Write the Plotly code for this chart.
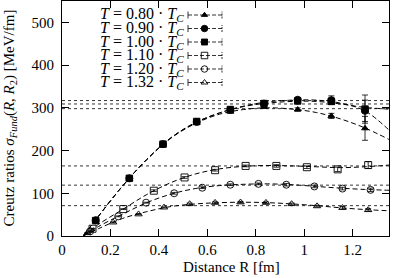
import plotly.graph_objects as go

# ---------------- data ----------------
temps = ["0.80", "0.90", "1.00", "1.10", "1.20", "1.32"]
symbols = ["triangle-up", "circle", "square", "square-open", "circle-open", "triangle-up-open"]

x_dark = [0.139, 0.278, 0.417, 0.556, 0.695, 0.834, 0.973, 1.112, 1.251]
x_110 = [0.126, 0.253, 0.379, 0.506, 0.632, 0.758, 0.885, 1.011, 1.138, 1.264]
x_120 = [0.116, 0.232, 0.347, 0.463, 0.579, 0.695, 0.811, 0.926, 1.042, 1.158, 1.274]
x_132 = [0.105, 0.211, 0.316, 0.421, 0.527, 0.632, 0.737, 0.842, 0.948, 1.053, 1.158, 1.264]

y_080 = [37, 134, 213, 265, 291, 302, 296, 281, 252]
e_080 = [1, 1, 2, 2, 2, 3, 4, 6, 28]
y_090 = [37, 135, 215, 267, 295, 310, 319, 318, 293]
e_090 = [1, 1, 2, 2, 3, 3, 4, 10, 25]
y_100 = [36, 135, 215, 268, 296, 310, 316, 315, 297]
e_100 = [1, 1, 2, 2, 3, 3, 4, 6, 33]
y_110 = [17, 63, 106, 137, 154, 164, 164, 161, 156, 166]
e_110 = [1, 1, 2, 2, 2, 2, 3, 3, 5, 8]
y_120 = [11, 46, 78, 100, 113, 120, 122, 120, 116, 111, 108]
e_120 = [1, 1, 1, 2, 2, 2, 2, 3, 3, 3, 4]
y_132 = [7, 32, 51, 67, 75, 78, 79, 78, 75, 70, 66, 61]
e_132 = [1, 1, 1, 1, 2, 2, 2, 2, 2, 2, 3, 3]

# fitted curves (dashed)
fit_x = [0.088, 0.15, 0.25, 0.35, 0.45, 0.55, 0.65, 0.75, 0.85, 0.95, 1.05, 1.15, 1.25, 1.35]
fit_080 = [0, 46, 117, 179, 229, 263, 285, 296, 300, 297, 289, 274, 253, 226]
fit_090 = [0, 46, 117, 179, 230, 265, 288, 304, 314, 318, 318, 311, 293, 248]
fit_100 = [0, 46, 117, 179, 230, 265, 288, 303, 311, 315, 315, 309, 301, 297]
fit_110 = [0, 27, 62, 97, 125, 145, 157, 163, 165, 164, 162, 160, 162, 166]
fit_120 = [0, 22, 51, 78, 98, 111, 118, 121, 122, 120, 116, 112, 109, 107]
fit_132 = [0, 17, 41, 57, 69, 75, 78, 79, 78, 75, 71, 66, 62, 59]

plateaus = [298, 317, 309, 164, 119, 71]

x_tickvals = [0, 0.2, 0.4, 0.6, 0.8, 1.0, 1.2]
x_ticktext = ["0", "0.2", "0.4", "0.6", "0.8", "1", "1.2"]
y_tickvals = [0, 100, 200, 300, 400, 500]

series_x = [x_dark, x_dark, x_dark, x_110, x_120, x_132]
series_y = [y_080, y_090, y_100, y_110, y_120, y_132]
series_e = [e_080, e_090, e_100, e_110, e_120, e_132]
fits = [fit_080, fit_090, fit_100, fit_110, fit_120, fit_132]

# ---------------- figure ----------------
FONT = "Liberation Serif"
fig = go.Figure()

# plateau dotted lines
for p in plateaus:
    fig.add_shape(type="line", xref="paper", yref="y", x0=0, x1=1, y0=p, y1=p,
                  line=dict(color="black", width=0.8, dash="3px,3px"), layer="below")

# fit curves
for fy in fits:
    fig.add_trace(go.Scatter(x=fit_x, y=fy, mode="lines", line_shape="spline",
                             line=dict(color="black", width=1, dash="5px,3px"),
                             hoverinfo="skip", showlegend=False))

# data points
msize = [6, 7, 6.5, 7, 7, 6.5]
for i in range(6):
    fig.add_trace(go.Scatter(
        x=series_x[i], y=series_y[i], mode="markers",
        marker=dict(symbol=symbols[i], size=msize[i], color="black",
                    line=dict(color="black", width=0.9)),
        error_y=dict(type="data", array=series_e[i], color="black",
                     thickness=0.8, width=3),
        showlegend=False))

# manual key (text left, sample right)
row_h = 13.5  # px
plot_h = 235.0
plot_w = 327.0
for i in range(6):
    py = 15 + i * row_h
    yp = (236 - py) / plot_h
    xl, xm, xr = (188 - 62) / plot_w, (204.5 - 62) / plot_w, (222 - 62) / plot_w
    cap = 3.5 / plot_h
    fig.add_annotation(xref="paper", yref="paper", x=(186 - 62) / plot_w, y=yp,
                       xanchor="right", yanchor="middle", showarrow=False,
                       text="<i>T</i> = " + temps[i] + " · <i>T</i><sub><i>C</i></sub>",
                       font=dict(family=FONT, size=16, color="black"))
    fig.add_shape(type="line", xref="paper", yref="paper", x0=xl, x1=xr, y0=yp, y1=yp,
                  line=dict(color="black", width=0.8, dash="4px,2px"))
    fig.add_shape(type="line", xref="paper", yref="paper", x0=xl, x1=xl, y0=yp - cap, y1=yp + cap,
                  line=dict(color="black", width=0.8))
    fig.add_shape(type="line", xref="paper", yref="paper", x0=xr, x1=xr, y0=yp - cap, y1=yp + cap,
                  line=dict(color="black", width=0.8, dash="2px,1px"))
    fig.add_trace(go.Scatter(x=[xm], y=[yp], xaxis="x2", yaxis="y2", mode="markers",
                             marker=dict(symbol=symbols[i], size=msize[i] - 0.5, color="black",
                                         line=dict(color="black", width=0.9)),
                             showlegend=False, hoverinfo="skip"))

axis_common = dict(showline=True, linecolor="black", linewidth=1.2, mirror="ticks",
                   ticks="inside", ticklen=7, tickwidth=1.2, tickcolor="black",
                   showgrid=False, zeroline=False,
                   tickfont=dict(family=FONT, size=15, color="black"))

fig.update_layout(
    width=405, height=278,
    margin=dict(l=62, r=16, t=1, b=42),
    paper_bgcolor="white", plot_bgcolor="white",
    showlegend=False,
    xaxis=dict(range=[0, 1.35], tickvals=x_tickvals, ticktext=x_ticktext, **axis_common),
    yaxis=dict(range=[0, 550], tickvals=y_tickvals, ticklabelstandoff=4, **axis_common),
    xaxis2=dict(overlaying="x", range=[0, 1], visible=False, fixedrange=True),
    yaxis2=dict(overlaying="y", range=[0, 1], visible=False, fixedrange=True),
)

fig.add_annotation(xref="paper", yref="paper", x=(231 - 62) / plot_w, y=(236 - 267) / plot_h,
                   xanchor="center", yanchor="middle", showarrow=False,
                   text="Distance R [fm]", font=dict(family=FONT, size=15, color="black"))
fig.add_annotation(xref="paper", yref="paper", x=(9 - 62) / plot_w, y=0.5,
                   xanchor="center", yanchor="middle", showarrow=False, textangle=-90,
                   text="Creutz ratios <i>σ</i><sub><i>Fund</i></sub>(<i>R</i>, <i>R</i><sub>2</sub>) [MeV/fm]",
                   font=dict(family=FONT, size=15, color="black"))

fig.write_html("out.html", config={"displayModeBar": False},
               post_script="document.body.style.margin='0';document.body.style.padding='0';")
